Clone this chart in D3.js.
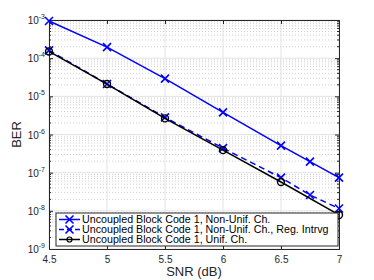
<!DOCTYPE html>
<html>
<head>
<meta charset="utf-8">
<script src="https://cdn.jsdelivr.net/npm/d3@7"></script>
<style>
  body { margin: 0; background: #fff; }
  text { font-family: "Liberation Sans", Arial, sans-serif; }
</style>
</head>
<body>
<div id="chart"></div>
<script>
// SNR points (dB)
var snr = [4.5, 5, 5.5, 6, 6.5, 6.75, 7];
// BER values
var berNonUnif = [9.4e-4, 1.95e-4, 2.9e-5, 3.8e-6, 5.1e-7, 1.95e-7, 7.4e-8];
var berNonUnifReg = [1.6e-4, 2.1e-5, 2.8e-6, 4.4e-7, 7.4e-8, 2.6e-8, 1.15e-8];
var snrUnif = [4.5, 5, 5.5, 6, 6.5, 7];
var berUnif = [1.5e-4, 2.1e-5, 2.65e-6, 3.9e-7, 5.7e-8, 7.8e-9];

var xTicks = [4.5, 5, 5.5, 6, 6.5, 7];
var yExps = [-3, -4, -5, -6, -7, -8, -9];
var legendLabels = ["Uncoupled Block Code 1, Non-Unif. Ch.",
                    "Uncoupled Block Code 1, Non-Unif. Ch., Reg. Intrvg",
                    "Uncoupled Block Code 1, Unif. Ch."];

var w = 374, h = 280,
    padL = 49, padR = 339, padT = 20, padB = 249;

var svg = d3.select("#chart").append("svg")
  .attr("width", w).attr("height", h);

var x = d3.scaleLinear().domain([4.5, 7]).range([padL, padR]);
var y = d3.scaleLog().domain([1e-9, 1e-3]).range([padB, padT]);

// minor grid (dotted, horizontal)
var minors = [];
for (var e = -9; e < -3; e++) {
  for (var m = 2; m <= 9; m++) minors.push(m * Math.pow(10, e));
}
svg.append("g").selectAll("line").data(minors).enter().append("line")
  .attr("x1", padL).attr("x2", padR)
  .attr("y1", function(d){ return y(d); }).attr("y2", function(d){ return y(d); })
  .attr("stroke", "#cfcfcf").attr("stroke-width", 1)
  .attr("stroke-dasharray", "1,2");

// major grid
svg.append("g").selectAll("line").data(yExps).enter().append("line")
  .attr("x1", padL).attr("x2", padR)
  .attr("y1", function(d){ return y(Math.pow(10, d)); })
  .attr("y2", function(d){ return y(Math.pow(10, d)); })
  .attr("stroke", "#e3e3e3").attr("stroke-width", 1);
svg.append("g").selectAll("line").data(xTicks).enter().append("line")
  .attr("y1", padT).attr("y2", padB)
  .attr("x1", function(d){ return x(d); }).attr("x2", function(d){ return x(d); })
  .attr("stroke", "#e3e3e3").attr("stroke-width", 1);

// axes
var xAxis = d3.axisBottom(x).tickValues(xTicks).tickSize(-4).tickPadding(7)
  .tickFormat(d3.format(""));
var gx = svg.append("g").attr("transform", "translate(0," + padB + ")").call(xAxis);
var xTop = d3.axisTop(x).tickValues(xTicks).tickSize(-4).tickFormat("");
var gxt = svg.append("g").attr("transform", "translate(0," + padT + ")").call(xTop);

var yAxis = d3.axisLeft(y).tickValues(yExps.map(function(d){ return Math.pow(10, d); }))
  .tickSize(-4).tickFormat("");
var gy = svg.append("g").attr("transform", "translate(" + padL + ",0)").call(yAxis);
var yRight = d3.axisRight(y).tickValues(yExps.map(function(d){ return Math.pow(10, d); }))
  .tickSize(-4).tickFormat("");
var gyr = svg.append("g").attr("transform", "translate(" + padR + ",0)").call(yRight);

// minor ticks on both sides
svg.append("g").selectAll("line").data(minors).enter().append("line")
  .attr("x1", padL).attr("x2", padL + 2)
  .attr("y1", function(d){ return y(d); }).attr("y2", function(d){ return y(d); })
  .attr("stroke", "#262626");
svg.append("g").selectAll("line").data(minors).enter().append("line")
  .attr("x1", padR).attr("x2", padR - 2)
  .attr("y1", function(d){ return y(d); }).attr("y2", function(d){ return y(d); })
  .attr("stroke", "#262626");

[gx, gxt, gy, gyr].forEach(function(g){
  g.select(".domain").attr("stroke", "#262626");
  g.selectAll(".tick line").attr("stroke", "#262626");
});
gx.selectAll("text").attr("font-size", 10).attr("fill", "#262626")
  .style("font-family", "Liberation Sans, Arial, sans-serif");

// y tick labels 10^n
var ylab = svg.append("g").selectAll("text").data(yExps).enter().append("text")
  .attr("x", padL - 4)
  .attr("y", function(d){ return y(Math.pow(10, d)) + 4; })
  .attr("text-anchor", "end")
  .attr("font-size", 10).attr("fill", "#262626");
ylab.append("tspan").text("10");
ylab.append("tspan").attr("dy", -5).attr("font-size", 7).text(function(d){ return "-" + Math.abs(d); });

// axis titles
svg.append("text").attr("x", (padL + padR) / 2).attr("y", 276)
  .attr("text-anchor", "middle").attr("font-size", 13).attr("fill", "#262626")
  .text("SNR (dB)");
svg.append("text").attr("transform", "translate(21," + ((padT + padB) / 2) + ") rotate(-90)")
  .attr("text-anchor", "middle").attr("font-size", 13).attr("fill", "#262626")
  .text("BER");

var line = d3.line()
  .x(function(d){ return x(d[0]); })
  .y(function(d){ return y(d[1]); });

var series = [
  {xs: snr, ys: berNonUnif, color: "#0000ff", dash: null, marker: "x"},
  {xs: snr, ys: berNonUnifReg, color: "#0000ff", dash: "6,4", marker: "x"},
  {xs: snrUnif, ys: berUnif, color: "#000000", dash: null, marker: "o"}
];

function drawMarker(g, type, cx, cy, color) {
  if (type == "x") {
    var s = 4;
    g.append("path")
      .attr("d", "M" + (cx - s) + "," + (cy - s) + "L" + (cx + s) + "," + (cy + s) +
                 "M" + (cx - s) + "," + (cy + s) + "L" + (cx + s) + "," + (cy - s))
      .attr("stroke", color).attr("stroke-width", 1.6).attr("fill", "none");
  } else {
    g.append("circle").attr("cx", cx).attr("cy", cy).attr("r", 3.5)
      .attr("stroke", color).attr("stroke-width", 1.4).attr("fill", "none");
  }
}

var plot = svg.append("g");
series.forEach(function(s){
  var pts = s.xs.map(function(v, i){ return [v, s.ys[i]]; });
  plot.append("path").datum(pts)
    .attr("d", line).attr("fill", "none")
    .attr("stroke", s.color).attr("stroke-width", 1.5)
    .attr("stroke-dasharray", s.dash);
  pts.forEach(function(p){
    drawMarker(plot, s.marker, x(p[0]), y(p[1]), s.color);
  });
});

// legend
var lg = svg.append("g");
lg.append("rect").attr("x", 56).attr("y", 213).attr("width", 282).attr("height", 33)
  .attr("fill", "#fff").attr("stroke", "#262626").attr("stroke-width", 1);
series.forEach(function(s, i){
  var yy = 219.5 + i * 10;
  lg.append("line").attr("x1", 59).attr("x2", 80).attr("y1", yy).attr("y2", yy)
    .attr("stroke", s.color).attr("stroke-width", 1.5)
    .attr("stroke-dasharray", s.dash ? "5,3" : null);
  if (s.marker == "o") {
    lg.append("circle").attr("cx", 69.5).attr("cy", yy).attr("r", 2.5)
      .attr("stroke", s.color).attr("stroke-width", 1.2).attr("fill", "none");
  } else {
    drawMarker(lg, s.marker, 69.5, yy, s.color);
  }
  lg.append("text").attr("x", 82).attr("y", yy + 3.8)
    .attr("font-size", 10.7).attr("fill", "#000").text(legendLabels[i]);
});
</script>
</body>
</html>
